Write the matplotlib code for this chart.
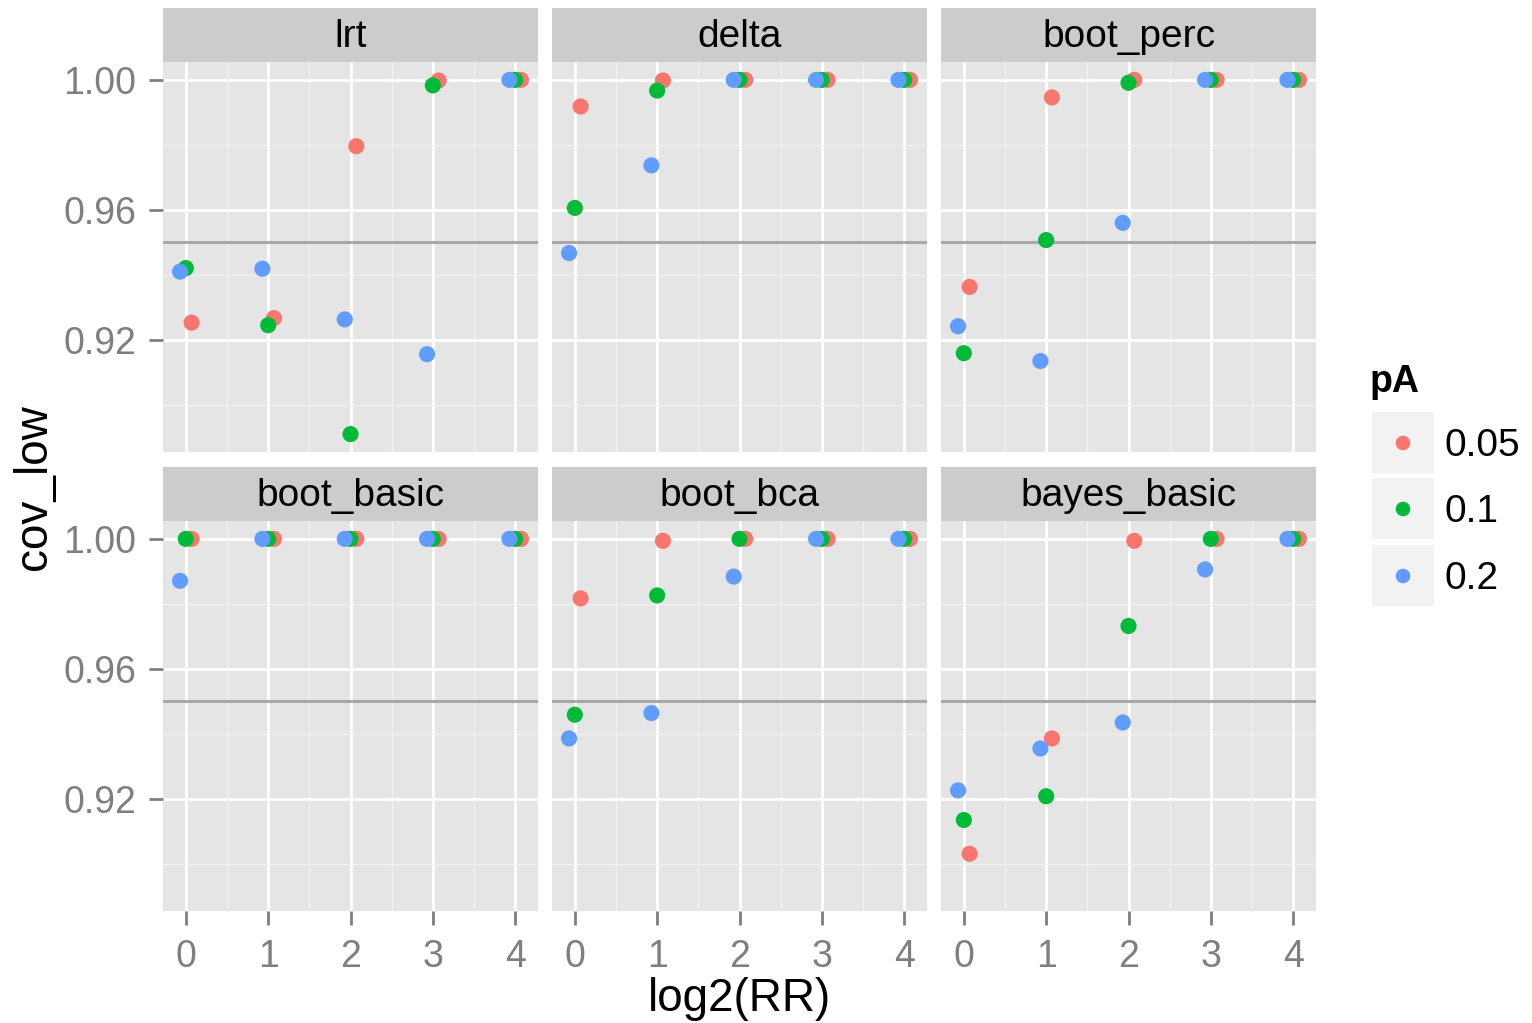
import numpy as np
import matplotlib.pyplot as plt
from matplotlib.patches import Rectangle

plt.rcParams['font.family'] = ['Liberation Sans', 'DejaVu Sans']

# Data
methods = ['lrt', 'delta', 'boot_perc', 'boot_basic', 'boot_bca', 'bayes_basic']
log2rr = [0, 1, 2, 3, 4]
pA_levels = ['0.05', '0.1', '0.2']
colors = ['#F8766D', '#00BA38', '#619CFF']

# cov_low per method, rows = pA 0.05, 0.1, 0.2
lrt = [[0.9253, 0.9267, 0.9796, 0.9998, 1.0],
       [0.9421, 0.9245, 0.8910, 0.9983, 1.0],
       [0.9410, 0.9419, 0.9263, 0.9156, 1.0]]
delta = [[0.9918, 0.9998, 1.0, 1.0, 1.0],
         [0.9606, 0.9967, 1.0, 1.0, 1.0],
         [0.9467, 0.9737, 1.0, 1.0, 1.0]]
boot_perc = [[0.9363, 0.9946, 1.0, 1.0, 1.0],
             [0.9159, 0.9507, 0.9991, 1.0, 1.0],
             [0.9242, 0.9135, 0.9560, 1.0, 1.0]]
boot_basic = [[1.0, 1.0, 1.0, 1.0, 1.0],
              [1.0, 1.0, 1.0, 1.0, 1.0],
              [0.9871, 1.0, 1.0, 1.0, 1.0]]
boot_bca = [[0.9817, 0.9994, 1.0, 1.0, 1.0],
            [0.9459, 0.9826, 1.0, 1.0, 1.0],
            [0.9386, 0.9464, 0.9884, 1.0, 1.0]]
bayes_basic = [[0.9031, 0.9386, 0.9994, 1.0, 1.0],
               [0.9135, 0.9208, 0.9732, 1.0, 1.0],
               [0.9226, 0.9355, 0.9435, 0.9906, 1.0]]
cov_low = [lrt, delta, boot_perc, boot_basic, boot_bca, bayes_basic]
ref_line = 0.95

# dodge offsets per pA level
dodge = [0.07, 0.0, -0.07]

W, H = 1532, 1023
fig = plt.figure(figsize=(W / 100, H / 100), dpi=100)

col_left = [163, 552, 941]
panel_w = 375
row_top = [62, 521]
panel_h = 390
strip_h = 54
tick_col = '#7F7F7F'

for i, m in enumerate(methods):
    r, c = divmod(i, 3)
    x0 = col_left[c]
    y0 = row_top[r]
    ax = fig.add_axes([x0 / W, 1 - (y0 + panel_h) / H, panel_w / W, panel_h / H])
    ax.set_facecolor('#E5E5E5')
    for s in ax.spines.values():
        s.set_visible(False)
    ax.set_xlim(-0.277, 4.277)
    ax.set_ylim(0.8855, 1.0055)
    ax.set_xticks(log2rr)
    ax.set_xticks([0.5, 1.5, 2.5, 3.5], minor=True)
    ax.set_yticks([0.92, 0.96, 1.00])
    ax.set_yticks([0.90, 0.94, 0.98], minor=True)
    ax.grid(which='major', color='white', linewidth=2.0)
    ax.grid(which='minor', color='#F2F2F2', linewidth=0.9)
    ax.set_axisbelow(True)
    ax.tick_params(which='minor', length=0)
    ax.tick_params(which='major', length=10, width=2, color=tick_col,
                   labelcolor=tick_col, labelsize=27)
    ax.tick_params(axis='y', pad=9)
    ax.tick_params(axis='x', pad=10)
    ax.set_yticklabels(['0.92', '0.96', '1.00'])
    if c != 0:
        ax.tick_params(axis='y', length=0, labelleft=False)
    if r != 1:
        ax.tick_params(axis='x', length=0, labelbottom=False)
    ax.axhline(ref_line, color='#A8A8A8', linewidth=2.2, zorder=1.5)
    for k in range(3):
        ax.scatter(np.array(log2rr) + dodge[k], cov_low[i][k], s=135,
                   color=colors[k], edgecolors='none', zorder=3)

    sax = fig.add_axes([x0 / W, 1 - y0 / H, panel_w / W, strip_h / H])
    sax.set_facecolor('#CCCCCC')
    sax.set_xticks([])
    sax.set_yticks([])
    for s in sax.spines.values():
        s.set_visible(False)
    sax.text(0.5, 0.47, m, ha='center', va='center', fontsize=28,
             color='black', transform=sax.transAxes)

# axis titles
fig.text(739.5 / W, 1 - 999 / H, 'log2(RR)', ha='center', va='center', fontsize=33)
fig.text(34 / W, 1 - 487 / H, 'cov_low', ha='center', va='center', fontsize=33,
         rotation=90)

# legend
fig.text(1370 / W, 1 - 382 / H, 'pA', ha='left', va='center', fontsize=27,
         fontweight='bold')
key_tops = [412, 478, 545]
lax = fig.add_axes([1372 / W, 1 - 606 / H, 62 / W, 194 / H])
lax.set_xlim(0, 62)
lax.set_ylim(606, 412)
lax.axis('off')
for k, lab in enumerate(pA_levels):
    kt = key_tops[k]
    lax.add_patch(Rectangle((0, kt), 62, 61, facecolor='#F2F2F2', edgecolor='none'))
    lax.scatter([31], [kt + 31], s=110, color=colors[k], edgecolors='none', zorder=3)
    fig.text(1445 / W, 1 - (kt + 34) / H, lab, ha='left', va='center', fontsize=28)

fig.savefig('out.png', dpi=100)
